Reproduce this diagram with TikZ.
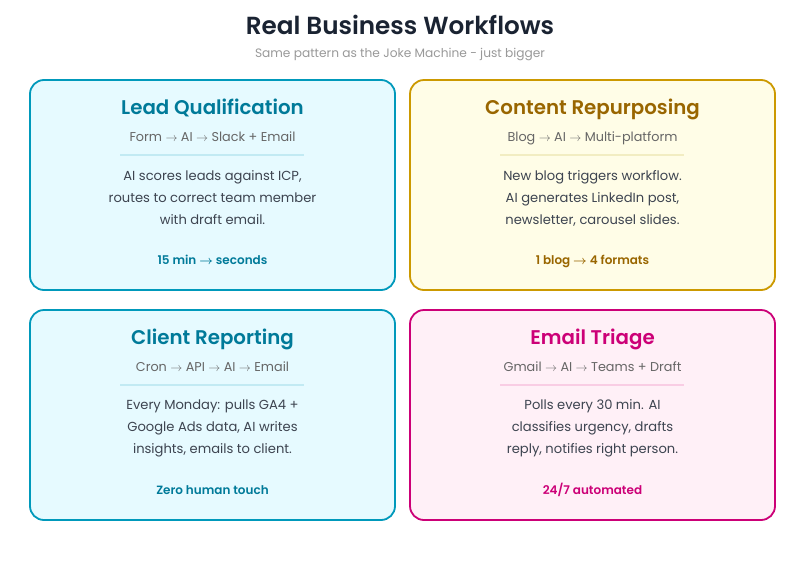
\documentclass[tikz,border=0pt]{standalone}
\usepackage{fontspec}
\setmainfont[BoldFont={Poppins SemiBold}]{Poppins}
\newcommand{\arr}{\(\rightarrow\)}
\newcommand{\barr}{{\boldmath\(\rightarrow\)}}
\definecolor{cyanbg}{HTML}{E6FAFF}
\definecolor{cyanln}{HTML}{0099BB}
\definecolor{cyantx}{HTML}{007A99}
\definecolor{cyanrule}{HTML}{C2EAF3}
\definecolor{yelbg}{HTML}{FFFDE7}
\definecolor{yelln}{HTML}{CC9900}
\definecolor{yeltx}{HTML}{996600}
\definecolor{yelrule}{HTML}{F2EDC2}
\definecolor{pinkbg}{HTML}{FFF0F7}
\definecolor{pinkln}{HTML}{CC0077}
\definecolor{pinktx}{HTML}{CC0077}
\definecolor{pinkrule}{HTML}{F9CDE4}
\definecolor{titletx}{HTML}{1A2332}
\definecolor{subtx}{HTML}{999999}
\definecolor{flowtx}{HTML}{666666}
\definecolor{bodytx}{HTML}{3D4450}
\tikzset{
  x=1pt,y=-1pt,
  cardbox/.style={draw,line width=1.8pt,rounded corners=14pt,minimum width=365pt,minimum height=210pt,anchor=north west,inner sep=0pt,outer sep=0pt},
  cardhead/.style={font=\fontsize{19.8}{24}\selectfont\bfseries,anchor=base,inner sep=0pt},
  flowtext/.style={font=\fontsize{12.8}{16}\selectfont,text=flowtx,anchor=base,inner sep=0pt},
  bodytext/.style={font=\fontsize{13.1}{22}\selectfont,text=bodytx,align=center,anchor=center,inner sep=0pt},
  stattext/.style={font=\fontsize{12}{16}\selectfont\bfseries,anchor=base,inner sep=0pt},
  ruleline/.style={line width=2pt},
}
\begin{document}
\begin{tikzpicture}
\useasboundingbox (0,0) rectangle (800,560);
\fill[white] (0,0) rectangle (800,560);
\node[font=\fontsize{24.7}{32}\selectfont\bfseries,text=titletx,inner sep=0pt,anchor=base] (title) at (400,34.5) {Real Business Workflows};
\node[font=\fontsize{12.2}{16}\selectfont,text=subtx,inner sep=0pt,anchor=base] (subtitle) at (400,57.3) {Same pattern as the Joke Machine - just bigger};
% card 1
\node[cardbox,fill=cyanbg,draw=cyanln] (c1) at (30,80) {};
\node[cardhead,text=cyantx] (c1h) at (212.5,114.4) {Lead Qualification};
\node[flowtext] (c1f) at (212.5,141.3) {Form \arr{} AI \arr{} Slack + Email};
\draw[cyanrule,ruleline] (120,155) -- (304,155);
\node[bodytext] (c1b) at (212.5,198) {AI scores leads against ICP,\\routes to correct team member\\with draft email.};
\node[stattext,text=cyantx] (c1s) at (212.5,264.3) {15 min \barr{} seconds};
% card 2
\node[cardbox,fill=yelbg,draw=yelln] (c2) at (410,80) {};
\node[cardhead,text=yeltx] (c2h) at (592.5,114.4) {Content Repurposing};
\node[flowtext] (c2f) at (592.5,141.3) {Blog \arr{} AI \arr{} Multi-platform};
\draw[yelrule,ruleline] (500,155) -- (684,155);
\node[bodytext] (c2b) at (592.5,198) {New blog triggers workflow.\\AI generates LinkedIn post,\\newsletter, carousel slides.};
\node[stattext,text=yeltx] (c2s) at (592.5,264.3) {1 blog \barr{} 4 formats};
% card 3
\node[cardbox,fill=cyanbg,draw=cyanln] (c3) at (30,310) {};
\node[cardhead,text=cyantx] (c3h) at (212.5,344.4) {Client Reporting};
\node[flowtext] (c3f) at (212.5,371.3) {Cron \arr{} API \arr{} AI \arr{} Email};
\draw[cyanrule,ruleline] (120,385) -- (304,385);
\node[bodytext] (c3b) at (212.5,428) {Every Monday: pulls GA4 +\\Google Ads data, AI writes\\insights, emails to client.};
\node[stattext,text=cyantx] (c3s) at (212.5,494.3) {Zero human touch};
% card 4
\node[cardbox,fill=pinkbg,draw=pinkln] (c4) at (410,310) {};
\node[cardhead,text=pinktx] (c4h) at (592.5,344.4) {Email Triage};
\node[flowtext] (c4f) at (592.5,371.3) {Gmail \arr{} AI \arr{} Teams + Draft};
\draw[pinkrule,ruleline] (500,385) -- (684,385);
\node[bodytext] (c4b) at (592.5,428) {Polls every 30 min. AI\\classifies urgency, drafts\\reply, notifies right person.};
\node[stattext,text=pinktx] (c4s) at (592.5,494.3) {24/7 automated};
\end{tikzpicture}
\end{document}
